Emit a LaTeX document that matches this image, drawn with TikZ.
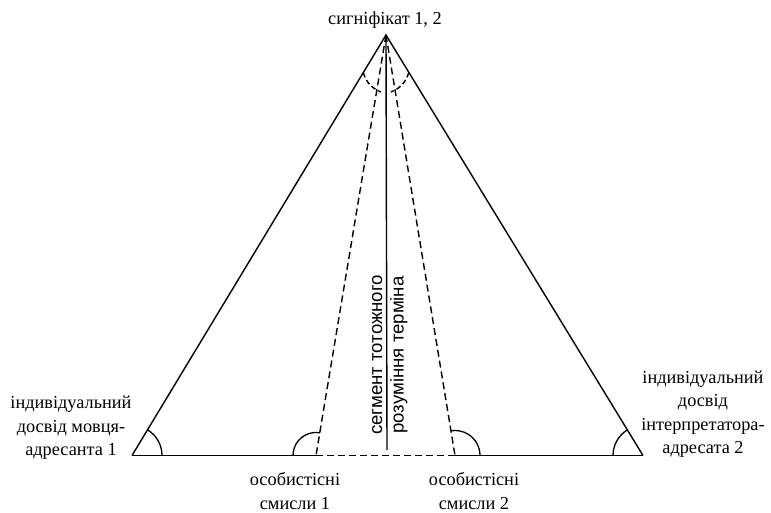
\documentclass[tikz,border=0pt]{standalone}
\usepackage{fontspec}
\setmainfont{Liberation Serif}
\setsansfont{Liberation Sans}
\begin{document}
\begin{tikzpicture}[x=1pt,y=1pt,
  lbl/.style={font=\fontsize{18.3}{23.5}\selectfont, align=center, inner sep=0pt},
  rlbl/.style={font=\sffamily\fontsize{18.6}{22}\selectfont, inner sep=0pt, rotate=90, anchor=base},
  edge/.style={line width=1.4pt},
  dashedge/.style={line width=1.4pt, dash pattern=on 7pt off 4pt},
  angarc/.style={line width=1.3pt}]
\useasboundingbox (0,0) rectangle (771,513);
\coordinate (A) at (386,478);
\coordinate (L) at (132,57.5);
\coordinate (R) at (643,57.5);
\coordinate (D1) at (316,57.5);
\coordinate (D2) at (455,57.5);
\coordinate (V) at (387,63);
\coordinate (AL1) at (363.3,440.3);
\coordinate (AL2) at (381,421);
\coordinate (AR1) at (408.7,440.3);
\coordinate (AR2) at (391,421);
% triangle
\draw[edge] (L) -- (A) -- (R);
\draw[edge] (L) -- (D1);
\draw[edge] (D2) -- (R);
\draw[dashedge] (D1) -- (D2);
\draw[dashedge] (A) -- (D1);
\draw[dashedge] (A) -- (D2);
\draw[edge] (A) -- (V);
% angle marks
\draw[angarc] ([shift={(0:30)}]L) arc[start angle=0, end angle=58.9, radius=30];
\draw[angarc] ([shift={(121.4:30)}]R) arc[start angle=121.4, end angle=180, radius=30];
\draw[angarc] ([shift={(80.5:23)}]D1) arc[start angle=80.5, end angle=180, radius=23];
\draw[angarc] ([shift={(0:25)}]D2) arc[start angle=0, end angle=99.4, radius=25];
\draw[dashedge, dash pattern=on 5pt off 3pt] (AL1) to[bend right=25] (AL2);
\draw[dashedge, dash pattern=on 5pt off 3pt] (AR1) to[bend left=25] (AR2);
% labels
\node[lbl] (top) at (385,493) {сигніфікат 1, 2};
\node[lbl] (left) at (71,85) {індивідуальний\\досвід мовця-\\адресанта 1};
\node[lbl] (right) at (703,99) {індивідуальний\\досвід\\інтерпретатора-\\адресата 2};
\node[lbl] (s1) at (295,22) {особистісні\\смисли 1};
\node[lbl] (s2) at (474,22) {особистісні\\смисли 2};
\node[rlbl] (seg1) at (382,158) {сегмент тотожного};
\node[rlbl] (seg2) at (403.5,158) {розуміння терміна};
\end{tikzpicture}
\end{document}
